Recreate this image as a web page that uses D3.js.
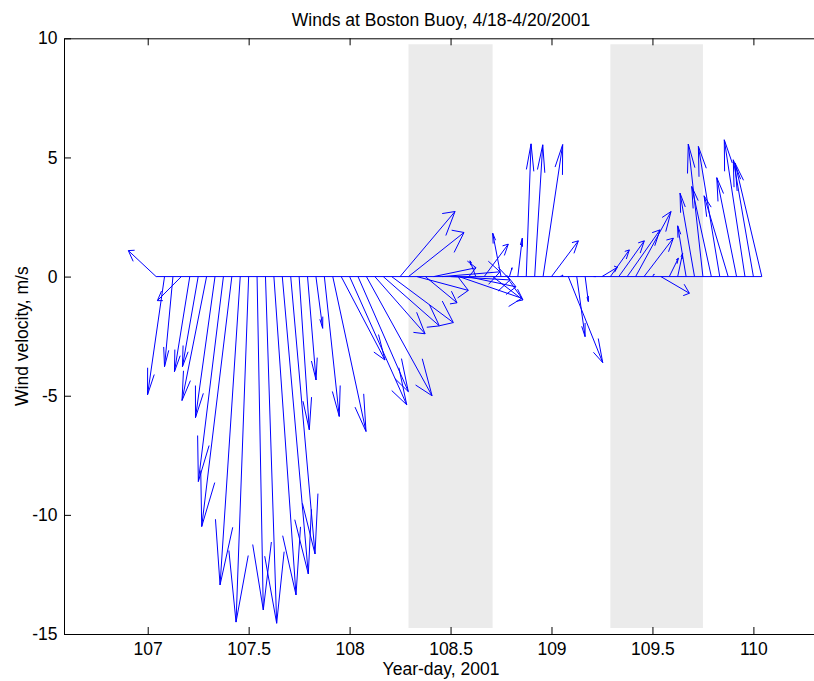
<!DOCTYPE html>
<html>
<head>
<meta charset="utf-8">
<script src="https://cdn.jsdelivr.net/npm/d3@7/dist/d3.min.js"></script>
<style>
  html, body { margin: 0; padding: 0; background: #fff; }
  svg text { font-family: "Liberation Sans", Arial, Helvetica, sans-serif; fill: #000; }
</style>
</head>
<body>
<svg id="chart" width="814" height="681"></svg>
<script>
// Hourly wind record, Boston buoy. Hours are counted from the start of year-day 107.
const hours = [
   1,  2,  3,  4,  5,  6,  7,  8,  9, 10, 11, 12, 13, 14, 15, 16, 17, 18, 19, 20,
  21, 22, 23, 24, 25, 26, 27, 28, 29, 30, 31, 32, 33, 34, 35, 36, 37, 38, 39, 40,
  41, 42, 43, 44, 45, 46, 47, 48, 49, 50, 51, 52, 53, 54, 55, 56, 57, 58, 59, 60,
  61, 62, 63, 64, 65, 66, 67, 68, 69, 70, 71, 72, 73
];
// East (u) and north (v) wind components, m/s
const eastWind = [
  -3.30, -2.02, -1.00, -2.85, -1.82, -1.87, -2.92, -2.32, -2.98, -3.58,
  -2.40, -1.50,  0.74,  1.33,  2.63,  3.09,  2.89,  1.21,  1.01,  0.80,
   1.77,  3.95,  5.20,  6.79,  5.98,  7.80,  5.97,  6.67,  7.33,  6.53,
   6.60,  6.11,  3.77,  5.03,  6.88,  7.07,  7.47,  5.78, -0.69,  2.86,
   3.61, -0.99,  0.31,  0.53,  0.57,  0.96,  2.33,  3.19,  0.36,  4.09,
   0.99,  0.38,  0.24,  1.83,  2.25,  3.03,  3.90,  4.21,  3.48,  0.20,
   3.39,  1.08,  0.59, -1.00, -1.72, -1.74, -2.33, -2.54, -2.86, -2.35,
  -2.46, -2.39, -3.19
];
const northWind = [
   1.09,  -4.96,  -3.78,  -1.01,  -3.99,  -3.78,  -5.20,  -5.92,  -8.60, -10.49,
 -12.94, -14.50, -13.99, -14.55, -13.36, -12.48, -11.64,  -6.43,  -4.34,  -2.17,
  -5.87,  -6.50,  -3.50,  -5.38,  -4.83,  -5.00,  -2.40,  -2.07,  -1.93,   2.73,
   1.85,  -0.58,  -1.10,   0.37,   0.20,  -0.14,  -0.91,  -0.43,   0.66,   1.36,
  -0.98,   1.82,   0.37,   1.61,   5.57,   5.53,   5.54,   1.50,   0.05,  -3.61,
  -2.52,  -1.05,   0.00,   0.39,   1.12,   1.50,   1.96,   2.73,   1.61,   0.10,
  -0.70,   0.77,   0.98,   2.13,   3.50,   5.56,   3.78,   5.46,   3.39,   4.15,
   5.74,   4.90,   4.77
];
// Shaded daytime spans, year-day
const bandStart = [108 + 7 / 24, 109 + 7 / 24];
const bandEnd   = [108 + 17 / 24, 109 + 18 / 24];
const bandTop = 9.75, bandBottom = -14.75;

const xTickValues = [107, 107.5, 108, 108.5, 109, 109.5, 110];
const xTickLabels = ["107", "107.5", "108", "108.5", "109", "109.5", "110"];
const yTickValues = [-15, -10, -5, 0, 5, 10];
const yTickLabels = ["-15", "-10", "-5", "0", "5", "10"];

const titleText = "Winds at Boston Buoy, 4/18-4/20/2001";
const xLabelText = "Year-day, 2001";
const yLabelText = "Wind velocity, m/s";

// Horizontal extent of an arrow: one m/s of east wind spans one hour on the time axis
const eastScale = 1 / 24;

const fontSize = 17.5;
const svg = d3.select("#chart");
const plotLeft = 64, plotRight = 818, plotTop = 38.3, plotBottom = 634;

const x = d3.scaleLinear().domain([106.5854, 110.3200]).range([plotLeft, plotRight]);
const y = d3.scaleLinear().domain([-15, 10]).range([plotBottom, plotTop]);

const records = hours.map((h, i) => ({ t: 107 + h / 24, u: eastWind[i], v: northWind[i] }));

// Shaded bands
svg.append("g").selectAll("rect")
  .data(bandStart.map((s, i) => ({ s, e: bandEnd[i] })))
  .join("rect")
  .attr("x", d => x(d.s))
  .attr("width", d => x(d.e) - x(d.s))
  .attr("y", y(bandTop))
  .attr("height", y(bandBottom) - y(bandTop))
  .attr("fill", "#ebebeb");

// Axes: bottom and left carry labels, top repeats the ticks; the right edge falls off the figure
const tickLen = 7;
const axisG = svg.append("g");

const xAxisBottom = d3.axisBottom(x).tickValues(xTickValues)
  .tickFormat((d, i) => xTickLabels[i]).tickSizeInner(-tickLen).tickSizeOuter(0).tickPadding(9);
const xAxisTop = d3.axisTop(x).tickValues(xTickValues)
  .tickFormat(() => "").tickSizeInner(-tickLen).tickSizeOuter(0);
const yAxisLeft = d3.axisLeft(y).tickValues(yTickValues)
  .tickFormat((d, i) => yTickLabels[i]).tickSizeInner(-tickLen).tickSizeOuter(0).tickPadding(6.5);

function styleAxis(g) {
  g.attr("font-family", null).attr("font-size", fontSize);
  g.selectAll("path.domain").attr("stroke", "#000").attr("stroke-width", 1);
  g.selectAll(".tick line").attr("stroke", "#000").attr("stroke-width", 1);
  g.selectAll(".tick text").attr("fill", "#000");
}

axisG.append("g").attr("transform", `translate(0,${plotBottom})`).call(xAxisBottom).call(styleAxis);
axisG.append("g").attr("transform", `translate(0,${plotTop})`).call(xAxisTop).call(styleAxis);
axisG.append("g").attr("transform", `translate(${plotLeft},0)`).call(yAxisLeft).call(styleAxis);

// Zero line along the record
const line = d3.line().x(d => x(d.t)).y(() => y(0));
svg.append("path")
  .datum([records[0], records[records.length - 1]])
  .attr("d", line)
  .attr("fill", "none")
  .attr("stroke", "#0000ff")
  .attr("stroke-width", 1);

// Wind arrows (shaft + two-barb head)
const alpha = 0.2, beta1 = 0.14, beta2 = 1.0;
const arrowG = svg.append("g").attr("fill", "none").attr("stroke", "#0000ff").attr("stroke-width", 1);
arrowG.selectAll("path")
  .data(records)
  .join("path")
  .attr("d", d => {
    const bx = x(d.t), by = y(0);
    const tx = x(d.t + d.u * eastScale), ty = y(d.v);
    const U = tx - bx, V = by - ty;
    const h1x = tx - alpha * (U + beta1 * V), h1y = ty + alpha * (V - beta2 * U);
    const h2x = tx - alpha * (U - beta1 * V), h2y = ty + alpha * (V + beta2 * U);
    return `M${bx},${by}L${tx},${ty}M${h1x},${h1y}L${tx},${ty}L${h2x},${h2y}`;
  });

// Titles
svg.append("text").attr("x", (plotLeft + plotRight) / 2).attr("y", 26)
  .attr("text-anchor", "middle").attr("font-size", fontSize).text(titleText);
svg.append("text").attr("x", (plotLeft + plotRight) / 2).attr("y", 675)
  .attr("text-anchor", "middle").attr("font-size", fontSize).text(xLabelText);
svg.append("text").attr("transform", `translate(28,${(plotTop + plotBottom) / 2}) rotate(-90)`)
  .attr("text-anchor", "middle").attr("font-size", fontSize).text(yLabelText);
</script>
</body>
</html>
